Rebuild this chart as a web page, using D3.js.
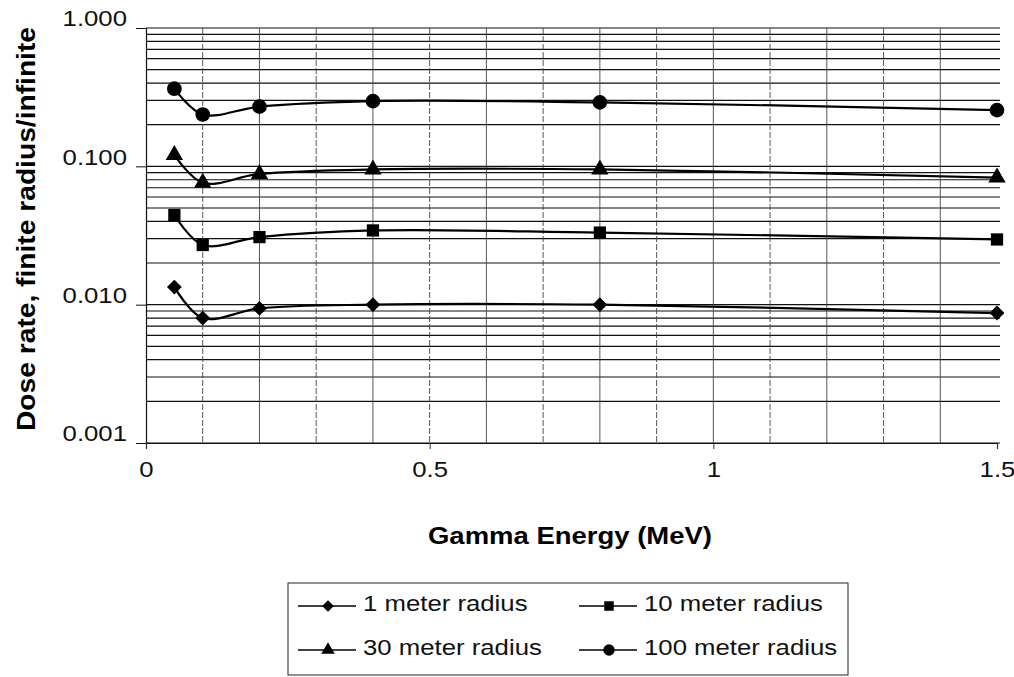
<!DOCTYPE html>
<html>
<head>
<meta charset="utf-8">
<script src="https://cdnjs.cloudflare.com/ajax/libs/d3/7.8.5/d3.min.js"></script>
<style>
  body { margin: 0; background: #fff; }
  svg { display: block; font-family: "Liberation Sans", Arial, sans-serif; }
</style>
</head>
<body>
<svg id="chart"></svg>
<script>
// Gamma energy (MeV) and dose-rate ratios
const energy = [0.05, 0.1, 0.2, 0.4, 0.8, 1.5];
const r1 = [0.0134, 0.0080, 0.0094, 0.0100, 0.0100, 0.0087];
const r10 = [0.0445, 0.0270, 0.0308, 0.0344, 0.0332, 0.0296];
const r30 = [0.121, 0.076, 0.088, 0.095, 0.095, 0.083];
const r100 = [0.364, 0.237, 0.270, 0.296, 0.290, 0.255];
const seriesNames = ['1 meter radius', '10 meter radius', '30 meter radius', '100 meter radius'];
const seriesSymbols = ['diamond', 'square', 'triangle', 'circle'];
const yTicks = [1, 0.1, 0.01, 0.001];
const xTicks = [0, 0.5, 1, 1.5];

const width = 1014, height = 677;
const svg = d3.select('#chart').attr('width', width).attr('height', height);

// scanned text is a bit wider than normal, so stretch it sideways
function widen(sel, k) {
    sel.each(function () {
        const w = this.getComputedTextLength();
        d3.select(this).attr('textLength', w * k).attr('lengthAdjust', 'spacingAndGlyphs');
    });
}

const x = d3.scaleLinear().domain([0, 1.5]).range([146, 997]);
const y = d3.scaleLog().domain([0.001, 1]).range([443, 28]);

// Horizontal gridlines (1..9 in each decade)
const hLines = [];
for (let k = -3; k < 0; k++) {
    for (let m = 1; m < 10; m++) hLines.push(m * Math.pow(10, k));
}
hLines.push(1);

svg.append('g').selectAll('line')
    .data(hLines)
    .enter().append('line')
    .attr('x1', x(0)).attr('x2', 1000)
    .attr('y1', d => y(d)).attr('y2', d => y(d))
    .attr('stroke', '#111')
    .attr('stroke-width', 1.2);

// Vertical gridlines every 0.1
const vLines = d3.range(1, 15).map(i => i / 10);
svg.append('g').selectAll('line')
    .data(vLines)
    .enter().append('line')
    .attr('x1', d => x(d)).attr('x2', d => x(d))
    .attr('y1', y(1)).attr('y2', y(0.001))
    .attr('stroke', '#444')
    .attr('stroke-width', 0.9)
    .attr('stroke-dasharray', (d, i) => i % 2 === 0 ? '6,2' : null);

// Y axis
const yAxis = svg.append('g')
    .attr('transform', `translate(${x(0)},0)`)
    .call(d3.axisLeft(y).tickValues(yTicks).tickFormat(d3.format('.3f')).tickSize(10).tickPadding(9));
yAxis.select('.domain').attr('stroke', '#111').attr('stroke-width', 1.2);
yAxis.selectAll('.tick line').attr('stroke', '#111');
yAxis.selectAll('text')
    .attr('font-size', 22)
    .attr('font-family', '"Liberation Sans", Arial, sans-serif')
    .attr('fill', '#111')
    .attr('dy', '-0.1em')
    .call(widen, 1.17);

// X axis
const xAxis = svg.append('g')
    .attr('transform', `translate(0,${y(0.001)})`)
    .call(d3.axisBottom(x).tickValues(xTicks).tickFormat(d3.format('')).tickSize(6).tickPadding(12));
xAxis.select('.domain').attr('stroke', '#111').attr('stroke-width', 1.2);
xAxis.selectAll('.tick line').attr('stroke', '#333');
xAxis.selectAll('text')
    .attr('font-size', 22)
    .attr('font-family', '"Liberation Sans", Arial, sans-serif')
    .attr('fill', '#111')
    .call(widen, 1.17);

// Axis titles
svg.append('text')
    .attr('x', 570).attr('y', 544)
    .attr('text-anchor', 'middle')
    .attr('font-size', 24)
    .attr('font-weight', 'bold')
    .attr('textLength', 284)
    .attr('lengthAdjust', 'spacingAndGlyphs')
    .text('Gamma Energy (MeV)');

svg.append('text')
    .attr('transform', 'translate(35,229) rotate(-90)')
    .attr('text-anchor', 'middle')
    .attr('font-size', 25)
    .attr('font-weight', 'bold')
    .attr('textLength', 404)
    .attr('lengthAdjust', 'spacingAndGlyphs')
    .text('Dose rate, finite radius/infinite');

// Series
const allSeries = [r1, r10, r30, r100].map((vals, i) => ({
    name: seriesNames[i],
    symbol: seriesSymbols[i],
    points: energy.map((e, j) => ({ e: e, v: vals[j] }))
}));

// diamond is a square turned 45 degrees, like the spreadsheet marker
const symbolType = {
    diamond: d3.symbolSquare,
    square: d3.symbolSquare,
    triangle: d3.symbolTriangle,
    circle: d3.symbolCircle
};
const symbolSize = { diamond: 110, square: 150, triangle: 130, circle: 170 };
const symbolRot = { diamond: 45, square: 0, triangle: 0, circle: 0 };

const line = d3.line()
    .x(d => x(d.e))
    .y(d => y(d.v))
    .curve(d3.curveCatmullRom.alpha(0.5));

const sg = svg.append('g').selectAll('g')
    .data(allSeries)
    .enter().append('g');

sg.append('path')
    .attr('d', d => line(d.points))
    .attr('fill', 'none')
    .attr('stroke', '#000')
    .attr('stroke-width', 2.2);

sg.selectAll('path.marker')
    .data(d => d.points.map(p => ({ p: p, symbol: d.symbol })))
    .enter().append('path')
    .attr('class', 'marker')
    .attr('transform', d => `translate(${x(d.p.e)},${y(d.p.v)}) rotate(${symbolRot[d.symbol]})`)
    .attr('d', d => d3.symbol().type(symbolType[d.symbol]).size(symbolSize[d.symbol])())
    .attr('fill', '#000');

// Legend
const legend = svg.append('g');
legend.append('rect')
    .attr('x', 288).attr('y', 583)
    .attr('width', 560).attr('height', 92)
    .attr('fill', 'none')
    .attr('stroke', '#222')
    .attr('stroke-width', 1);

const legPos = [
    { x: 298, y: 603 }, { x: 579, y: 603 },
    { x: 298, y: 647 }, { x: 579, y: 647 }
];
const legItems = legend.selectAll('g.item')
    .data(allSeries)
    .enter().append('g')
    .attr('class', 'item')
    .attr('transform', (d, i) => `translate(${legPos[i].x},${legPos[i].y})`);

legItems.append('line')
    .attr('x1', 0).attr('x2', 58)
    .attr('y1', 3).attr('y2', 3)
    .attr('stroke', '#000')
    .attr('stroke-width', 1.5);
legItems.append('path')
    .attr('transform', d => `translate(30,3) rotate(${symbolRot[d.symbol]})`)
    .attr('d', d => d3.symbol().type(symbolType[d.symbol]).size(symbolSize[d.symbol] * 0.6)())
    .attr('fill', '#000');
legItems.append('text')
    .attr('x', 65).attr('y', 0)
    .attr('dy', '0.35em')
    .attr('font-size', 22)
    .attr('fill', '#111')
    .text(d => d.name)
    .call(widen, 1.17);
</script>
</body>
</html>
